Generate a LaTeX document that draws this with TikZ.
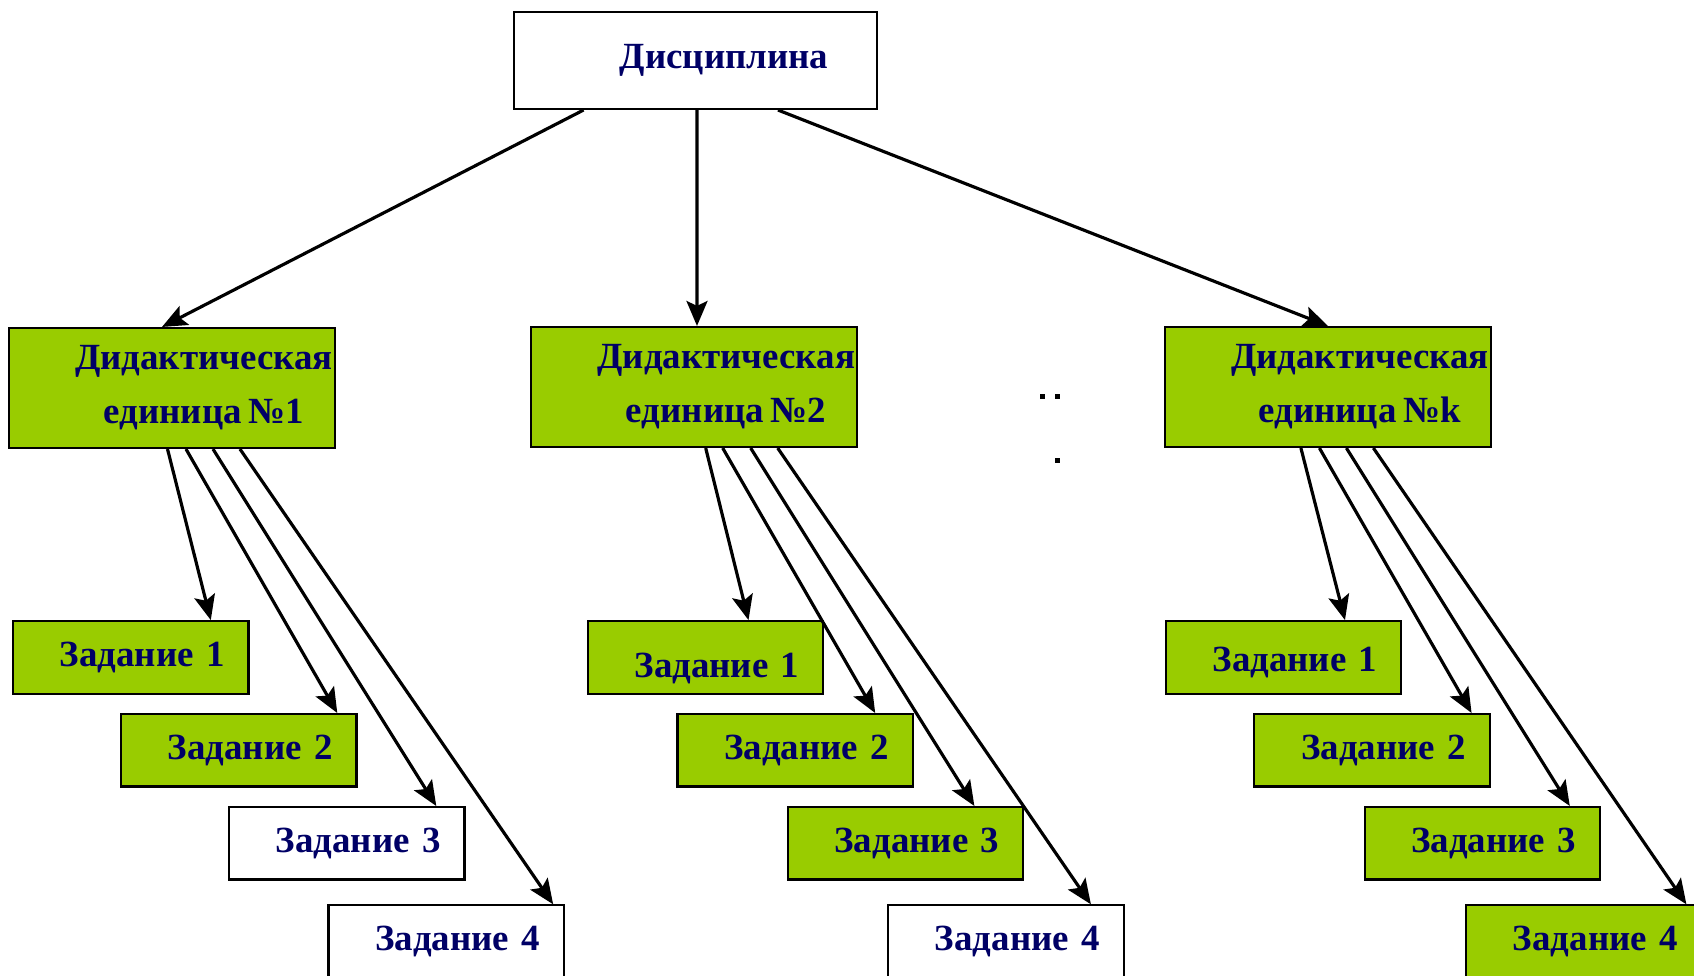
\documentclass[tikz,border=0pt]{standalone}
\usepackage{fontspec}
\setmainfont[WordSpace=0.75]{Liberation Serif}
\usetikzlibrary{arrows.meta}
\definecolor{dn}{rgb}{0, 0, 0.4}
\definecolor{lg}{rgb}{0.6, 0.8, 0}

\begin{document}
\begin{tikzpicture}[x=0.02cm,y=-0.02cm,%
    box/.style={draw=black,line width=1.2pt,fill=white,text=dn,%
      font=\fontsize{21}{30.7}\selectfont\bfseries},%
    unit/.style={box,fill=lg,minimum width=6.52cm,minimum height=2.4cm,%
      inner xsep=0pt,align=center},%
    task/.style={box,text width=3.75cm,inner xsep=0.48cm,%
      minimum height=1.45cm,align=right},%
    arr/.style={line width=1.8pt,%
      -{Stealth[length=0.5cm,width=0.42cm,inset=0.1cm]}}]
  \useasboundingbox (0,0) rectangle (1694,976);
  % top
  \node [box,minimum width=7.26cm,minimum height=1.94cm,align=center]%
    (disc) at (695.5,60.5) {\hspace*{1.14cm}Дисциплина};
  % units
  \node [unit] (de1) at (172,388)%
    {\hspace*{1.28cm}Дидактическая\\\hspace*{1.28cm}единица №1};
  \node [unit] (de2) at (694.2,387)%
    {\hspace*{1.28cm}Дидактическая\\\hspace*{1.28cm}единица №2};
  \node [unit] (dek) at (1327.9,387)%
    {\hspace*{1.28cm}Дидактическая\\\hspace*{1.28cm}единица №k};
  % tasks, column 1
  \node [task,fill=lg] (z11) at (130.8,657.4)  {Задание 1};
  \node [task,fill=lg] (z12) at (238.8,750.3)  {Задание 2};
  \node [task]         (z13) at (346.8,843.3)  {Задание 3};
  \node [task]         (z14) at (446.2,941.6)  {Задание 4};
  % tasks, column 2
  \node [task,fill=lg] (z21) at (705.5,657.4)%
    {\raisebox{-0.22cm}[\height][\depth]{Задание 1}};
  \node [task,fill=lg] (z22) at (795.2,750.3)  {Задание 2};
  \node [task,fill=lg] (z23) at (905.4,843.3)  {Задание 3};
  \node [task]         (z24) at (1005.9,941.6) {Задание 4};
  % tasks, column k
  \node [task,fill=lg] (zk1) at (1283.5,657.4)%
    {\raisebox{-0.11cm}[\height][\depth]{Задание 1}};
  \node [task,fill=lg] (zk2) at (1372.1,750.3) {Задание 2};
  \node [task,fill=lg] (zk3) at (1482.3,843.3) {Задание 3};
  \node [task,fill=lg] (zk4) at (1583.9,941.6) {Задание 4};
  % dots
  \fill (1040,394) rectangle +(5.4,5.4);
  \fill (1055,394) rectangle +(5.4,5.4);
  \fill (1055,458) rectangle +(5.4,5.4);
  % arrows
  \draw [arr] ([xshift=-2.24cm]disc.south) -- ([xshift=-0.2cm]de1.north);
  \draw [arr] ([xshift=0.03cm]disc.south)  -- ([xshift=0.056cm]de2.north);
  \draw [arr] ([xshift=1.65cm]disc.south)  -- (dek.north);
  \draw [arr] ([xshift=-0.09cm]de1.south) -- ([xshift=1.6cm]z11.north);
  \draw [arr] ([xshift=0.28cm]de1.south)  -- ([xshift=1.97cm]z12.north);
  \draw [arr] ([xshift=0.82cm]de1.south)  -- ([xshift=1.79cm]z13.north);
  \draw [arr] ([xshift=1.36cm]de1.south)  -- ([xshift=2.14cm]z14.north);
  \draw [arr] ([xshift=0.23cm]de2.south)  -- ([xshift=0.86cm]z21.north);
  \draw [arr] ([xshift=0.57cm]de2.south)  -- ([xshift=1.6cm]z22.north);
  \draw [arr] ([xshift=1.13cm]de2.south)  -- ([xshift=1.38cm]z23.north);
  \draw [arr] ([xshift=1.67cm]de2.south)  -- ([xshift=1.7cm]z24.north);
  \draw [arr] ([xshift=-0.54cm]dek.south) -- ([xshift=1.23cm]zk1.north);
  \draw [arr] ([xshift=-0.17cm]dek.south) -- ([xshift=1.99cm]zk2.north);
  \draw [arr] ([xshift=0.37cm]dek.south)  -- ([xshift=1.75cm]zk3.north);
  \draw [arr] ([xshift=0.91cm]dek.south)  -- ([xshift=2.05cm]zk4.north);
\end{tikzpicture}
\end{document}
